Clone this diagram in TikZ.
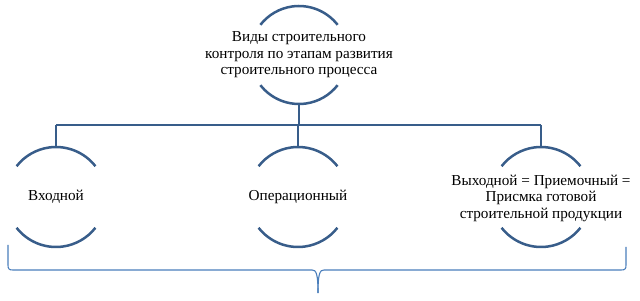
\documentclass[tikz,border=0pt]{standalone}
\usepackage{fontspec}
\setmainfont{Liberation Serif}
\definecolor{arcblue}{HTML}{385D8A}
\definecolor{braceblue}{HTML}{4A7EBB}
\begin{document}
\begin{tikzpicture}[x=1pt,y=1pt,
  circ/.style={circle,minimum size=#1,inner sep=0pt,outer sep=0pt},
  arcst/.style={draw=arcblue,line width=2.5pt},
  conn/.style={draw=arcblue,line width=2pt},
  bracest/.style={draw=braceblue,line width=1.1pt},
  lbl/.style={align=center,font=\fontsize{15.2}{16.5}\selectfont,inner sep=0pt}]
\useasboundingbox (0,0) rectangle (640,300);
% circles (invisible holders)
\node[circ=98pt] (top) at (299,245) {};
\node[circ=100pt] (inL) at (56,103) {};
\node[circ=100pt] (inM) at (298,103) {};
\node[circ=100pt] (inR) at (541,103) {};
% arcs
\foreach \n/\r in {top/49pt,inL/50pt,inM/50pt,inR/50pt}{
  \draw[arcst] (\n.38) arc[start angle=38,end angle=142,radius=\r];
  \draw[arcst] (\n.-142) arc[start angle=-142,end angle=-38,radius=\r];
}
% texts
\node[lbl] (ttop) at (top.center) {Виды строительного\\контроля по этапам развития\\строительного процесса};
\node[lbl] (tL) at (inL.center) {Входной};
\node[lbl] (tM) at (inM.center) {Операционный};
\node[lbl] (tR) at ([yshift=-1pt]inR.center) {Выходной = Приемочный =\\Присмка готовой\\строительной продукции};
% connectors
\coordinate (busL) at (inL.north |- 0,175);
\coordinate (busR) at (inR.north |- 0,175);
\draw[conn] (top.south) -- (top.south |- busL);
\draw[conn] (busL) -- (busR);
\draw[conn] (busL) -- (inL.north);
\draw[conn] (inM.north |- busL) -- (inM.north);
\draw[conn] (busR) -- (inR.north);
% brace
\coordinate (brL) at (8,55);
\coordinate (brR) at (626,53);
\coordinate (tip) at (318,7);
\draw[bracest] (brL) -- (8,35) .. controls (8,31) and (9,30) .. (13,30) -- (312,30) .. controls (316,30) and (318,27) .. (tip);
\draw[bracest] (tip) .. controls (318,27) and (320,30) .. (324,30) -- (621,30) .. controls (625,30) and (626,31) .. (626,35) -- (brR);
\end{tikzpicture}
\end{document}
